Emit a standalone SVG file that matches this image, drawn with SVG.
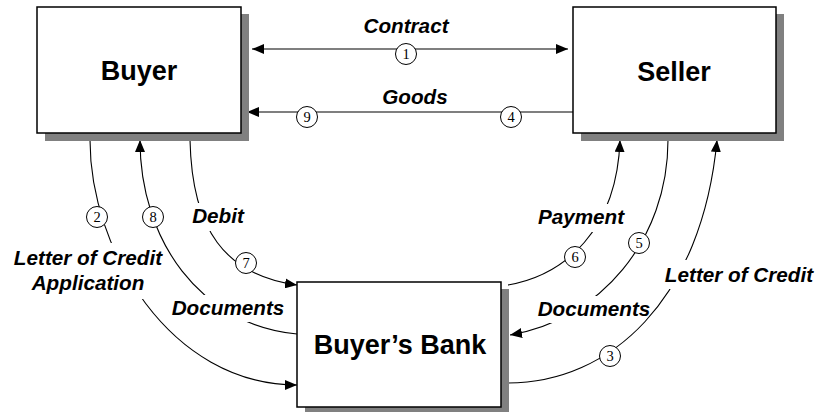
<svg xmlns="http://www.w3.org/2000/svg" width="818" height="412" viewBox="0 0 818 412">
  <style>
    .box { fill: #fff; stroke: #000; stroke-width: 1.5; }
    .shadow { fill: #808080; }
    .title { font-family: "Liberation Sans", Arial, sans-serif; font-weight: bold; font-size: 27px; text-anchor: middle; fill: #000; }
    .label { font-family: "Liberation Sans", Arial, sans-serif; font-weight: bold; font-style: italic; font-size: 20.7px; text-anchor: middle; fill: #000; }
    .wire { fill: none; stroke: #000; stroke-width: 1.1; }
    .step circle { fill: #fff; stroke: #000; stroke-width: 1; }
    .step text { font-family: "Liberation Serif", "Times New Roman", serif; font-size: 14.5px; text-anchor: middle; fill: #000; }
  </style>
  <defs>
    <marker id="arrow" markerUnits="userSpaceOnUse" markerWidth="12" markerHeight="10" viewBox="0 0 12 10" refX="12" refY="5" orient="auto-start-reverse">
      <path d="M0,0 L12,5 L0,10 Z" fill="#000"/>
    </marker>
    <!-- label cut-outs: each curve is interrupted where its own label sits -->
    <mask id="gap2" maskUnits="userSpaceOnUse" x="0" y="0" width="818" height="412">
      <rect width="818" height="412" fill="#fff"/>
      <rect x="0" y="243" width="170" height="56" fill="#000"/>
    </mask>
    <mask id="gap8" maskUnits="userSpaceOnUse" x="0" y="0" width="818" height="412">
      <rect width="818" height="412" fill="#fff"/>
      <rect x="165" y="295" width="125" height="27" fill="#000"/>
    </mask>
    <mask id="gap7" maskUnits="userSpaceOnUse" x="0" y="0" width="818" height="412">
      <rect width="818" height="412" fill="#fff"/>
      <rect x="186" y="203" width="64" height="28" fill="#000"/>
    </mask>
    <mask id="gap6" maskUnits="userSpaceOnUse" x="0" y="0" width="818" height="412">
      <rect width="818" height="412" fill="#fff"/>
      <rect x="532" y="204" width="98" height="28" fill="#000"/>
    </mask>
    <mask id="gap5" maskUnits="userSpaceOnUse" x="0" y="0" width="818" height="412">
      <rect width="818" height="412" fill="#fff"/>
      <rect x="530" y="296" width="127" height="27" fill="#000"/>
    </mask>
    <mask id="gap3" maskUnits="userSpaceOnUse" x="0" y="0" width="818" height="412">
      <rect width="818" height="412" fill="#fff"/>
      <rect x="658" y="260" width="160" height="29" fill="#000"/>
    </mask>
  </defs>

  <rect width="818" height="412" fill="#fff"/>

  <!-- connectors -->
  <g id="connectors">
    <!-- 1 Contract (both ways) -->
    <line class="wire" x1="252" y1="49" x2="568" y2="49" marker-start="url(#arrow)" marker-end="url(#arrow)"/>
    <!-- 4 / 9 Goods -->
    <line class="wire" x1="573" y1="112" x2="247" y2="112" marker-end="url(#arrow)"/>
    <!-- 2 Letter of Credit Application -->
    <path class="wire" mask="url(#gap2)" d="M90,140 C90,250 170,385 297,385" marker-end="url(#arrow)"/>
    <!-- 8 Documents to buyer -->
    <path class="wire" mask="url(#gap8)" d="M297,334 C200,325 140,240 140,140" marker-end="url(#arrow)"/>
    <!-- 7 Debit -->
    <path class="wire" mask="url(#gap7)" d="M190,140 C192,230 225,275 297,285" marker-end="url(#arrow)"/>
    <!-- 6 Payment -->
    <path class="wire" mask="url(#gap6)" d="M508,285 C565,275 617,230 620,140" marker-end="url(#arrow)"/>
    <!-- 5 Documents to bank -->
    <path class="wire" mask="url(#gap5)" d="M668,140 C668,240 600,320 510,335" marker-end="url(#arrow)"/>
    <!-- 3 Letter of Credit -->
    <path class="wire" mask="url(#gap3)" d="M508,383 C610,383 702,300 717,140" marker-end="url(#arrow)"/>

    <text class="label" x="406" y="33">Contract</text>
    <text class="label" x="415" y="104">Goods</text>
    <text class="label" x="88" y="265">Letter of Credit</text>
    <text class="label" x="88" y="290">Application</text>
    <text class="label" x="228" y="315">Documents</text>
    <text class="label" x="218" y="223">Debit</text>
    <text class="label" x="581" y="224">Payment</text>
    <text class="label" x="594" y="316">Documents</text>
    <text class="label" x="739" y="282">Letter of Credit</text>

    <g class="step"><circle cx="406" cy="54" r="10.5"/><text x="406" y="59">1</text></g>
    <g class="step"><circle cx="97" cy="217" r="10.5"/><text x="97" y="222">2</text></g>
    <g class="step"><circle cx="610" cy="356" r="10.5"/><text x="610" y="361">3</text></g>
    <g class="step"><circle cx="511" cy="117" r="10.5"/><text x="511" y="122">4</text></g>
    <g class="step"><circle cx="639" cy="243" r="10.5"/><text x="639" y="248">5</text></g>
    <g class="step"><circle cx="575" cy="257" r="10.5"/><text x="575" y="262">6</text></g>
    <g class="step"><circle cx="246" cy="263" r="10.5"/><text x="246" y="268">7</text></g>
    <g class="step"><circle cx="153" cy="217" r="10.5"/><text x="153" y="222">8</text></g>
    <g class="step"><circle cx="307" cy="117" r="10.5"/><text x="307" y="122">9</text></g>
  </g>

  <!-- parties -->
  <g id="buyer">
    <rect class="shadow" x="45" y="14" width="204" height="127"/>
    <rect class="box" x="37" y="7" width="204" height="126"/>
    <text class="title" x="139" y="80">Buyer</text>
  </g>
  <g id="seller">
    <rect class="shadow" x="581" y="14" width="203" height="127"/>
    <rect class="box" x="573" y="7" width="203" height="126"/>
    <text class="title" x="674" y="81">Seller</text>
  </g>
  <g id="buyers-bank">
    <rect class="shadow" x="305" y="289" width="204" height="126"/>
    <rect class="box" x="297" y="282" width="204" height="125"/>
    <text class="title" x="400" y="354">Buyer’s Bank</text>
  </g>
</svg>
